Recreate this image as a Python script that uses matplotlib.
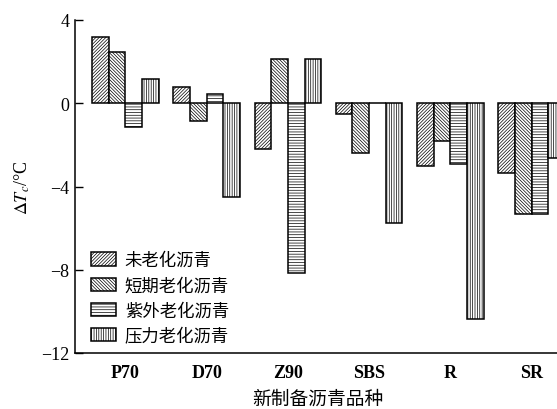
import matplotlib
matplotlib.use("Agg")
import matplotlib.pyplot as plt
import numpy as np

plt.rcParams["font.family"] = ["Liberation Serif", "DejaVu Serif"]
plt.rcParams["mathtext.fontset"] = "stix"
plt.rcParams["hatch.linewidth"] = 0.5

asphalts = ["P70", "D70", "Z90", "SBS", "R", "SR"]
series_names = ["未老化沥青", "短期老化沥青", "紫外老化沥青", "压力老化沥青"]
unaged = [3.17, 0.79, -2.18, -0.50, -3.00, -3.37]
short_term = [2.47, -0.85, 2.15, -2.40, -1.81, -5.32]
uv_aged = [-1.13, 0.43, -8.17, 0.0, -2.90, -5.33]
pressure = [1.17, -4.50, 2.12, -5.73, -10.35, -2.61]
y_ticks = [4, 0, -4, -8, -12]

series = [unaged, short_term, uv_aged, pressure]
hatches = ["/" * 10, "\\" * 10, "-" * 6, "|" * 7]

fig = plt.figure(figsize=(5.57, 4.10), dpi=100)
ax = fig.add_axes([75 / 557, 56 / 410, 507 / 557, 333 / 410])

x = np.arange(len(asphalts))
width = 0.205
for i, (vals, hatch, name) in enumerate(zip(series, hatches, series_names)):
    offs = (i - 1.5) * width
    ax.bar(x + offs, vals, width, facecolor="white", edgecolor="black",
           linewidth=1.1, hatch=hatch, label=name)

ax.set_xlim(-0.62, 5.62)
ax.set_ylim(-12, 4)
ax.set_yticks(y_ticks)
ax.set_yticklabels([str(t).replace("-", "\u2212") for t in y_ticks], fontsize=13)
ax.set_xticks(x)
ax.set_xticklabels(asphalts, fontsize=13, fontweight="bold")
ax.tick_params(axis="y", direction="in", length=6, width=1, pad=4)
ax.tick_params(axis="x", length=0, pad=8)
for side in ["top", "right"]:
    ax.spines[side].set_visible(False)
for side in ["left", "bottom"]:
    ax.spines[side].set_linewidth(1.1)

fig.text(22 / 557, 1 - 188 / 410, r"$\Delta T_c$/°C", rotation=90,
         ha="center", va="center", fontsize=13)
fig.text(318 / 557, 1 - 399 / 410, "新制备沥青品种", ha="center", va="center",
         fontsize=13.5, family=["Noto Sans CJK SC", "DejaVu Sans"])

ax.legend(loc="upper left", bbox_to_anchor=(91 / 557, 1 - 252 / 410),
          bbox_transform=fig.transFigure, frameon=False, borderpad=0,
          handlelength=1.45, handleheight=0.8, handletextpad=0.5,
          labelspacing=0.42, borderaxespad=0,
          prop={"family": ["Noto Sans CJK SC", "DejaVu Sans"], "size": 12.5})

fig.savefig("out.png", dpi=100)
